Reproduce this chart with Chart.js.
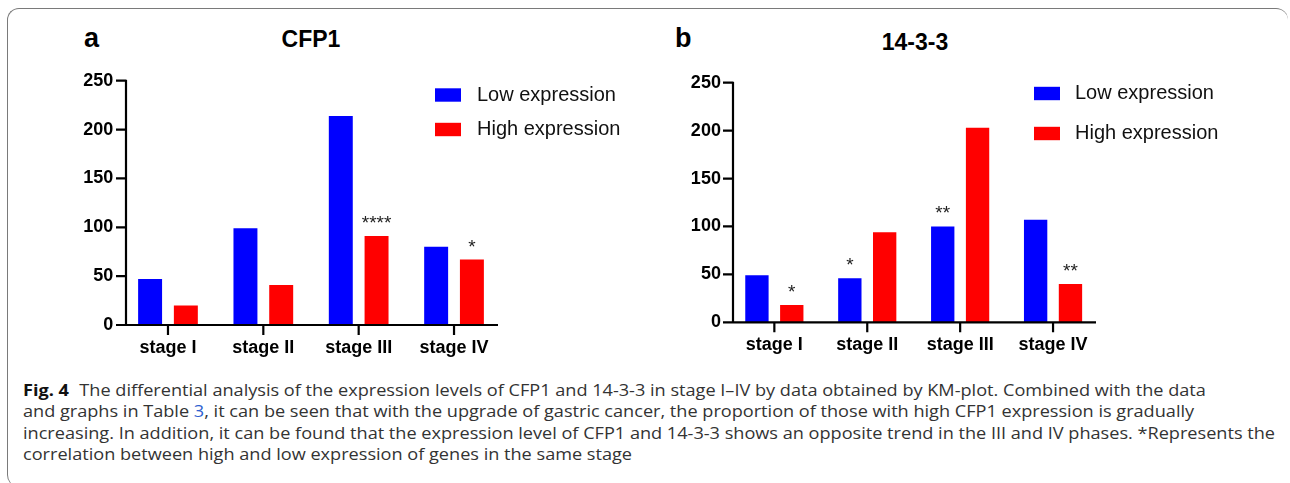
<!DOCTYPE html>
<html>
<head>
<meta charset="utf-8">
<script src="https://cdn.jsdelivr.net/npm/chart.js@4.4.0/dist/chart.umd.min.js"></script>
<style>
  html, body { margin: 0; padding: 0; background: #fff; }
  body { width: 1290px; height: 483px; position: relative; overflow: hidden; font-family: "Liberation Sans", Arial, sans-serif; }
  .frame { position: absolute; left: 7px; top: 8px; width: 1281px; height: 479px; box-sizing: border-box;
           border: 1px solid #7a7a7a; border-right: none; border-bottom: none; border-radius: 12px; }
  canvas { position: absolute; top: 0; }
  .panel { position: absolute; font-weight: bold; font-size: 27px; line-height: 27px; color: #000; }
  .title { position: absolute; width: 200px; text-align: center; font-weight: bold; font-size: 23px; line-height: 23px; color: #000; }
  .caption { position: absolute; left: 23px; top: 379.5px; font-family: "Open Sans", sans-serif; font-size: 16px;
             line-height: 21.5px; color: #333; white-space: nowrap; transform-origin: 0 0; }
  .caption b { color: #111; margin-right: 5px; }
  .caption .ref { color: #2f5fd0; }
</style>
</head>
<body>
<div class="frame"></div>

<div class="panel" style="left:84px; top:25px;">a</div>
<div class="title" style="left:211px; top:28px;">CFP1</div>
<div class="panel" style="left:675px; top:25px;">b</div>
<div class="title" style="left:815px; top:31px;">14-3-3</div>

<canvas id="chartA" width="645" height="370" style="left:0px;"></canvas>
<canvas id="chartB" width="645" height="370" style="left:645px;"></canvas>

<div class="caption" id="caption">
  <div><b>Fig. 4</b> The differential analysis of the expression levels of CFP1 and 14-3-3 in stage I–IV by data obtained by KM-plot. Combined with the data</div>
  <div>and graphs in Table <span class="ref">3</span>, it can be seen that with the upgrade of gastric cancer, the proportion of those with high CFP1 expression is gradually</div>
  <div><span id="longLine">increasing. In addition, it can be found that the expression level of CFP1 and 14-3-3 shows an opposite trend in the III and IV phases. *Represents the</span></div>
  <div>correlation between high and low expression of genes in the same stage</div>
</div>

<script>
// ====================
// Data
// ====================

const stages = ["stage I", "stage II", "stage III", "stage IV"];
const yTicks = [0, 50, 100, 150, 200, 250];

const cfp1Low = [47, 99, 214, 80];
const cfp1High = [20, 41, 91, 67];
const cfp1LowStars = ["", "", "", ""];
const cfp1HighStars = ["", "", "****", "*"];

const ywhaLow = [49, 46, 100, 107];
const ywhaHigh = [18, 94, 203, 40];
const ywhaLowStars = ["", "*", "**", ""];
const ywhaHighStars = ["*", "", "", "**"];

const seriesNames = ["Low expression", "High expression"];

// ====================
// Axes, stars and legend
// ====================

const figurePlugin = {
  id: "figure",
  afterDatasetsDraw(chart, args, opts) {
    const ctx = chart.ctx;
    const x = chart.scales.x;
    const y = chart.scales.y;
    const y0 = y.getPixelForValue(0);
    const yTop = y.getPixelForValue(yTicks[yTicks.length - 1]);

    ctx.save();
    ctx.strokeStyle = "#000";
    ctx.lineWidth = 2.2;
    ctx.beginPath();
    ctx.moveTo(opts.axisLeft, yTop - 1);
    ctx.lineTo(opts.axisLeft, y0 + 1);
    ctx.moveTo(opts.axisLeft - 1, y0);
    ctx.lineTo(opts.axisRight, y0);
    y.ticks.forEach((t) => {
      const py = y.getPixelForValue(t.value);
      ctx.moveTo(opts.axisLeft - 10, py);
      ctx.lineTo(opts.axisLeft, py);
    });
    x.ticks.forEach((t, i) => {
      const px = x.getPixelForTick(i);
      ctx.moveTo(px, y0);
      ctx.lineTo(px, y0 + 10);
    });
    ctx.stroke();

    // significance marks
    ctx.font = '19px "Liberation Sans", Arial, sans-serif';
    ctx.fillStyle = "#222";
    ctx.textAlign = "center";
    ctx.textBaseline = "alphabetic";
    chart.data.datasets.forEach((ds, di) => {
      chart.getDatasetMeta(di).data.forEach((bar, i) => {
        const s = ds.stars[i];
        if (s) ctx.fillText(s, bar.x, bar.y - 7);
      });
    });

    // legend
    ctx.font = '20px "Liberation Sans", Arial, sans-serif';
    ctx.textAlign = "left";
    ctx.textBaseline = "middle";
    chart.data.datasets.forEach((ds, di) => {
      const cy = opts.legendRows[di];
      ctx.fillStyle = ds.backgroundColor;
      ctx.fillRect(opts.legendBoxX, cy - 6.7, 26, 13.4);
      ctx.fillStyle = "#111";
      ctx.fillText(ds.label, opts.legendTextX, cy);
    });
    ctx.restore();
  },
};

const tickFont = { family: '"Liberation Sans", Arial, sans-serif', size: 18, weight: "bold" };

function buildChart(canvasId, low, high, lowStars, highStars, box) {
  return new Chart(document.getElementById(canvasId), {
    type: "bar",
    plugins: [figurePlugin],

    data: {
      labels: stages,
      datasets: [
        {
          label: seriesNames[0],
          data: low,
          stars: lowStars,
          backgroundColor: "#0000ff",
          categoryPercentage: 0.75,
          barPercentage: 0.67,
        },
        {
          label: seriesNames[1],
          data: high,
          stars: highStars,
          backgroundColor: "#ff0000",
          categoryPercentage: 0.75,
          barPercentage: 0.67,
        },
      ],
    },

    options: {
      responsive: false,
      animation: false,
      events: [],

      layout: {
        padding: { left: 0, top: box.top, right: box.right, bottom: 0 },
      },

      plugins: {
        legend: { display: false },
        tooltip: { enabled: false },
        figure: box.figure,
      },

      scales: {
        x: {
          grid: { display: false, drawTicks: false },
          border: { display: false },
          ticks: { color: "#000", font: tickFont, padding: 12, maxRotation: 0, autoSkip: false },
          afterFit: (s) => { s.height = box.xHeight; },
        },
        y: {
          min: yTicks[0],
          max: yTicks[yTicks.length - 1],
          grid: { display: false, drawTicks: false },
          border: { display: false },
          ticks: { color: "#000", font: tickFont, padding: 7 },
          afterBuildTicks: (s) => { s.ticks = yTicks.map((v) => ({ value: v })); },
          afterFit: (s) => { s.width = box.yWidth; },
        },
      },
    },
  });
}

// ====================
// Panel a: CFP1
// ====================

buildChart("chartA", cfp1Low, cfp1High, cfp1LowStars, cfp1HighStars, {
  top: 80.7, right: 143.3, xHeight: 45, yWidth: 120.3,
  figure: { axisLeft: 126, axisRight: 498, legendBoxX: 435, legendTextX: 477, legendRows: [95, 129.5] },
});

// ====================
// Panel b: 14-3-3
// ====================

buildChart("chartB", ywhaLow, ywhaHigh, ywhaLowStars, ywhaHighStars, {
  top: 82.7, right: 190.5, xHeight: 47.7, yWidth: 82.9,
  figure: { axisLeft: 88, axisRight: 451, legendBoxX: 389, legendTextX: 430, legendRows: [93.5, 133.5] },
});

// ====================
// Caption width
// ====================

const cap = document.getElementById("caption");
const w = document.getElementById("longLine").getBoundingClientRect().width;
cap.style.transform = "scaleX(" + (1252 / w) + ")";
</script>
</body>
</html>
